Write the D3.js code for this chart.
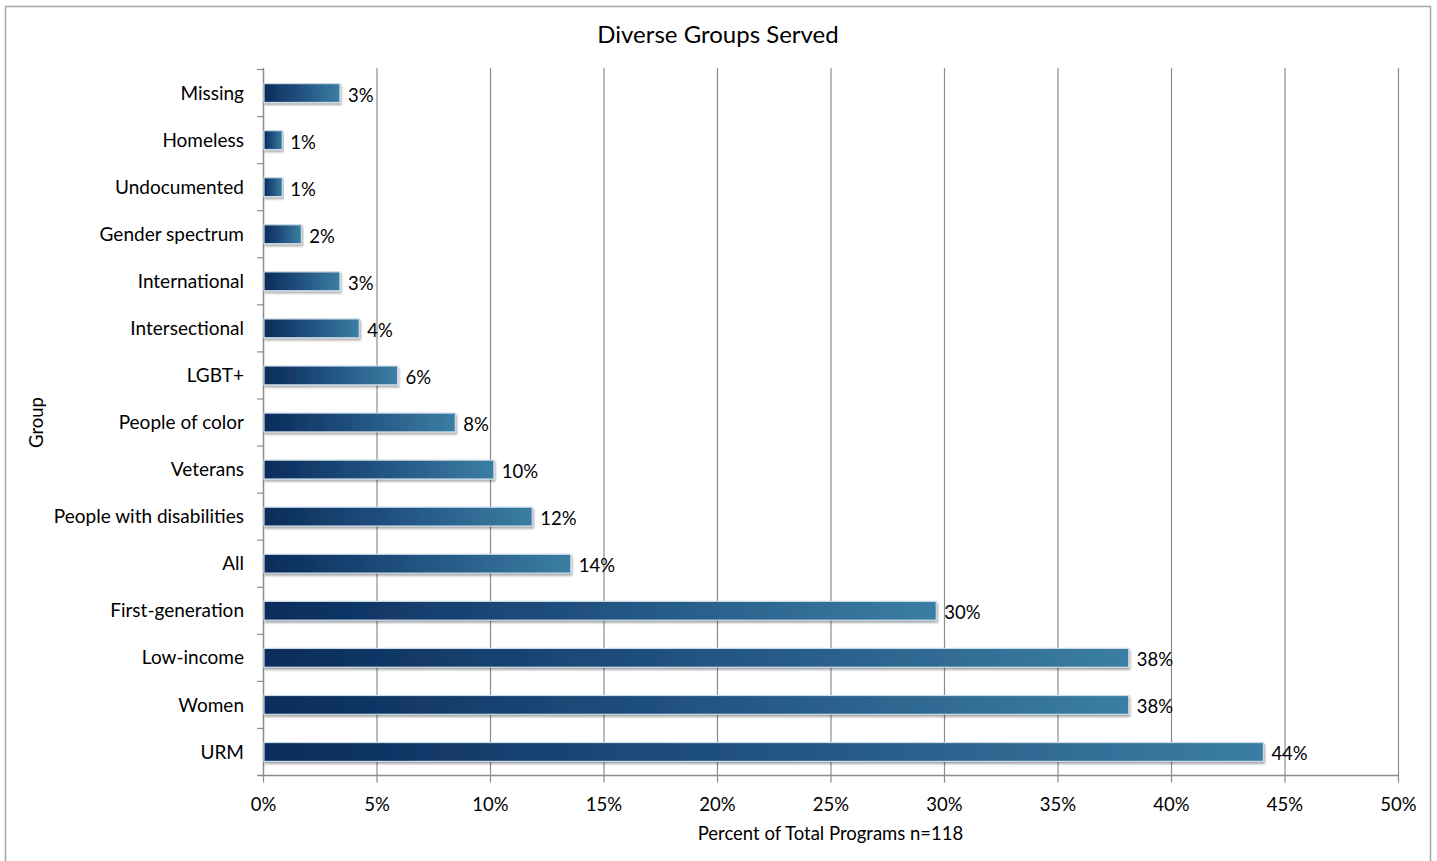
<!DOCTYPE html>
<html>
<head>
<meta charset="utf-8">
<script src="https://cdn.jsdelivr.net/npm/d3@7"></script>
<style>
  body { margin: 0; background: #fff; }
  text { font-family: Lato, "Open Sans", sans-serif; fill: #000; }
</style>
</head>
<body>
<div id="chart"></div>
<script>
let groups = ["Missing", "Homeless", "Undocumented", "Gender spectrum", "International", "Intersectional", "LGBT+", "People of color", "Veterans", "People with disabilities", "All", "First-generation", "Low-income", "Women", "URM"];
let percents = [3.39, 0.85, 0.85, 1.69, 3.39, 4.24, 5.93, 8.47, 10.17, 11.86, 13.56, 29.66, 38.14, 38.14, 44.07];
let xTicks = [0, 5, 10, 15, 20, 25, 30, 35, 40, 45, 50];

let width = 1437,
    height = 861,
    plotLeft = 263,
    plotRight = 1398,
    plotTop = 69.5,
    plotBottom = 775.5;

let svg = d3.select("#chart").append("svg")
    .attr("width", width)
    .attr("height", height);

let defs = svg.append("defs");

let grad = defs.append("linearGradient")
    .attr("id", "barGrad")
    .attr("x1", "0%").attr("x2", "100%")
    .attr("y1", "0%").attr("y2", "0%");
grad.append("stop").attr("offset", "0%").attr("stop-color", "#0a2c5b");
grad.append("stop").attr("offset", "45%").attr("stop-color", "#1f4f7d");
grad.append("stop").attr("offset", "100%").attr("stop-color", "#3b7ea3");

let shadow = defs.append("filter")
    .attr("id", "shadow")
    .attr("x", "-5%").attr("y", "-30%")
    .attr("width", "110%").attr("height", "180%");
shadow.append("feDropShadow")
    .attr("dx", 1).attr("dy", 2)
    .attr("stdDeviation", 1.2)
    .attr("flood-color", "#000")
    .attr("flood-opacity", 0.35);

// outer chart border
svg.append("rect")
    .attr("x", 5.5).attr("y", 6.5)
    .attr("width", 1425).attr("height", 870)
    .attr("fill", "none")
    .attr("stroke", "#a6a6a6")
    .attr("stroke-width", 1.5);

let x = d3.scaleLinear()
    .domain([0, 50])
    .range([plotLeft, plotRight]);

let y = d3.scaleBand()
    .domain(groups)
    .range([plotTop, plotBottom])
    .paddingInner(0.6)
    .paddingOuter(0.3);

// gridlines
svg.append("g")
    .selectAll("line")
    .data(xTicks.slice(1))
    .enter().append("line")
    .attr("x1", d => x(d) + 0.5)
    .attr("x2", d => x(d) + 0.5)
    .attr("y1", plotTop - 1.5)
    .attr("y2", plotBottom)
    .attr("stroke", "#8c8c8c")
    .attr("stroke-width", 1.2);

// x axis
let xAxis = d3.axisBottom(x)
    .tickValues(xTicks)
    .tickSize(7)
    .tickPadding(15)
    .tickFormat(d => d + "%");

let gx = svg.append("g")
    .attr("transform", "translate(0," + plotBottom + ")")
    .call(xAxis);
gx.select(".domain").remove();
gx.append("line")
    .attr("x1", plotLeft - 6).attr("x2", plotRight + 1)
    .attr("y1", 0).attr("y2", 0)
    .attr("stroke", "#8c8c8c").attr("stroke-width", 1.5);
gx.selectAll(".tick line").attr("stroke", "#8c8c8c").attr("stroke-width", 1.2);
gx.selectAll(".tick text")
    .attr("font-size", 18.5)
    .attr("font-family", "Lato, 'Open Sans', sans-serif")
    .attr("fill", "#000");

// y axis with ticks at category boundaries
let gy = svg.append("g");
gy.append("line")
    .attr("x1", plotLeft + 0.5).attr("x2", plotLeft + 0.5)
    .attr("y1", plotTop - 1.5).attr("y2", plotBottom)
    .attr("stroke", "#8c8c8c").attr("stroke-width", 1.5);
let step = y.step();
gy.selectAll(".ytick")
    .data(d3.range(groups.length))
    .enter().append("line")
    .attr("class", "ytick")
    .attr("x1", plotLeft - 6).attr("x2", plotLeft)
    .attr("y1", i => plotTop + i * step)
    .attr("y2", i => plotTop + i * step)
    .attr("stroke", "#8c8c8c").attr("stroke-width", 1.2);

gy.selectAll(".ylabel")
    .data(groups)
    .enter().append("text")
    .attr("class", "ylabel")
    .attr("x", plotLeft - 19)
    .attr("y", d => y(d) + y.bandwidth() / 2)
    .attr("dy", "0.35em")
    .attr("text-anchor", "end")
    .attr("font-size", 19)
    .text(d => d);

// bars
svg.append("g")
    .selectAll("rect")
    .data(groups)
    .enter().append("rect")
    .attr("x", x(0) + 1)
    .attr("y", d => y(d))
    .attr("width", (d, i) => x(percents[i]) - x(0) - 1)
    .attr("height", y.bandwidth())
    .attr("fill", "url(#barGrad)")
    .attr("stroke", "#c9dbe8")
    .attr("stroke-width", 1.2)
    .attr("filter", "url(#shadow)");

// value labels
svg.append("g")
    .selectAll("text")
    .data(groups)
    .enter().append("text")
    .attr("x", (d, i) => x(percents[i]) + 8)
    .attr("y", d => y(d) + y.bandwidth() / 2 + 2)
    .attr("dy", "0.35em")
    .attr("font-size", 18.5)
    .text((d, i) => Math.round(percents[i]) + "%");

// title
svg.append("text")
    .attr("x", 718)
    .attr("y", 35)
    .attr("dy", "0.35em")
    .attr("text-anchor", "middle")
    .attr("font-size", 24)
    .text("Diverse Groups Served");

// axis titles
svg.append("text")
    .attr("x", (plotLeft + plotRight) / 2)
    .attr("y", 834)
    .attr("dy", "0.35em")
    .attr("text-anchor", "middle")
    .attr("font-size", 18.5)
    .text("Percent of Total Programs n=118");

svg.append("text")
    .attr("transform", "translate(37," + ((plotTop + plotBottom) / 2) + ") rotate(-90)")
    .attr("dy", "0.35em")
    .attr("text-anchor", "middle")
    .attr("font-size", 18.5)
    .text("Group");
</script>
</body>
</html>
